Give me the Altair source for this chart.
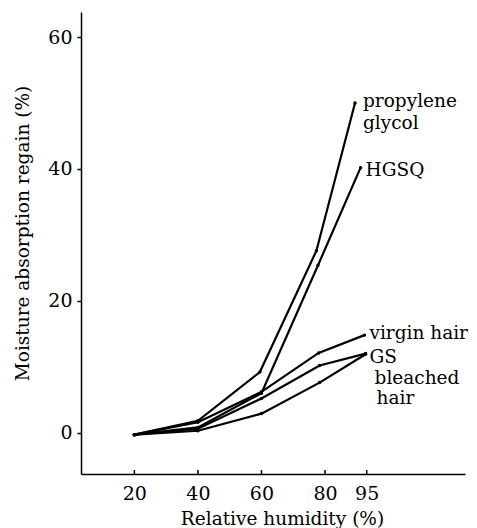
import altair as alt
import pandas as pd

# Moisture regain curves, one list per material
series_names = ["propylene glycol", "HGSQ", "virgin hair", "GS", "bleached hair"]
humidity = {
    "propylene glycol": [20, 40, 59.5, 77.3, 90.8],
    "HGSQ": [20, 40, 60, 77.8, 92.8],
    "virgin hair": [20, 40, 60, 78, 94.2],
    "GS": [20, 40, 60, 78.3, 94.6],
    "bleached hair": [20, 40, 60, 78.3, 94.6],
}
regain = {
    "propylene glycol": [-0.3, 1.8, 9.2, 27.6, 50.0],
    "HGSQ": [-0.3, 0.8, 6.0, 25.4, 40.2],
    "virgin hair": [-0.3, 1.6, 6.2, 12.1, 14.8],
    "GS": [-0.3, 0.6, 5.2, 10.2, 12.0],
    "bleached hair": [-0.3, 0.3, 2.9, 7.6, 11.9],
}

x_ticks = [20, 40, 60, 80, 95]
y_ticks = [0, 20, 40, 60]

# end-of-curve annotations: (series, text, dx, dy)
labels = [
    ("propylene glycol", "propylene\nglycol", 8, 4),
    ("HGSQ", "HGSQ", 5, 8),
    ("virgin hair", "virgin hair", 5, 4),
    ("GS", "GS", 4, 9),
    ("bleached hair", "bleached", 9, 30),
    ("bleached hair", "hair", 11, 50),
]

rows = []
for s in series_names:
    for i, (xv, yv) in enumerate(zip(humidity[s], regain[s])):
        rows.append({"series": s, "rh": xv, "regain": yv, "idx": i})
df = pd.DataFrame(rows)
ends = df.groupby("series", as_index=False).last()
tick_df = pd.DataFrame({"rh": x_ticks})

FONT = "DejaVu Serif"
W, H = 384, 462

x_scale = alt.Scale(domain=[3.2, 80, 95, 130], range=[0, 244, 285.7, W],
                    zero=False, nice=False)
y_scale = alt.Scale(domain=[-6.26, 63.8], zero=False, nice=False)

x_enc = alt.X("rh:Q", scale=x_scale,
              axis=alt.Axis(values=x_ticks, format="d", ticks=False,
                            labelPadding=10, labelBaseline="top",
                            title="Relative humidity (%)",
                            titleX=201, titleY=50, titleAlign="center",
                            titleBaseline="alphabetic", grid=False))
y_enc = alt.Y("regain:Q", scale=y_scale,
              axis=alt.Axis(values=y_ticks, format="d", tickSize=4,
                            tickColor="black", tickWidth=1.5,
                            labelPadding=5,
                            title="Moisture absorption regain (%)",
                            titleX=-59, titleY=221, titleAngle=270,
                            titleAlign="center", titleBaseline="middle",
                            grid=False))

lines = alt.Chart(df).mark_line(color="black", strokeWidth=2.2).encode(
    x=x_enc, y=y_enc, detail="series:N", order="idx:Q")

dots = alt.Chart(df).mark_circle(color="black", size=12, opacity=1).encode(
    x=alt.X("rh:Q", scale=x_scale), y=alt.Y("regain:Q", scale=y_scale))

# short inward tick marks on the humidity axis
xticks = alt.Chart(tick_df).mark_rule(color="black", strokeWidth=1.5).encode(
    x=alt.X("rh:Q", scale=x_scale),
    y=alt.value(H), y2=alt.value(H - 4))

layers = [lines, dots, xticks]
for s, txt, dx, dy in labels:
    layers.append(
        alt.Chart(ends).transform_filter(alt.datum.series == s)
        .mark_text(text=txt, align="left", baseline="alphabetic", dx=dx, dy=dy,
                   font=FONT, fontSize=18.5, color="black",
                   lineBreak="\n", lineHeight=22)
        .encode(x=alt.X("rh:Q", scale=x_scale),
                y=alt.Y("regain:Q", scale=y_scale))
    )

chart = alt.layer(*layers).properties(
    width=W, height=H,
    autosize=alt.AutoSizeParams(type="none"),
    padding={"left": 81, "top": 12, "right": 12, "bottom": 54},
    background="white",
).configure_view(stroke=None).configure_axis(
    domainColor="black", domainWidth=1.5,
    labelColor="black", labelFont=FONT, labelFontSize=19,
    titleColor="black", titleFont=FONT, titleFontSize=18.5,
    titleFontWeight="normal",
)

chart.save("out.html", embed_options={"renderer": "svg", "actions": False})
